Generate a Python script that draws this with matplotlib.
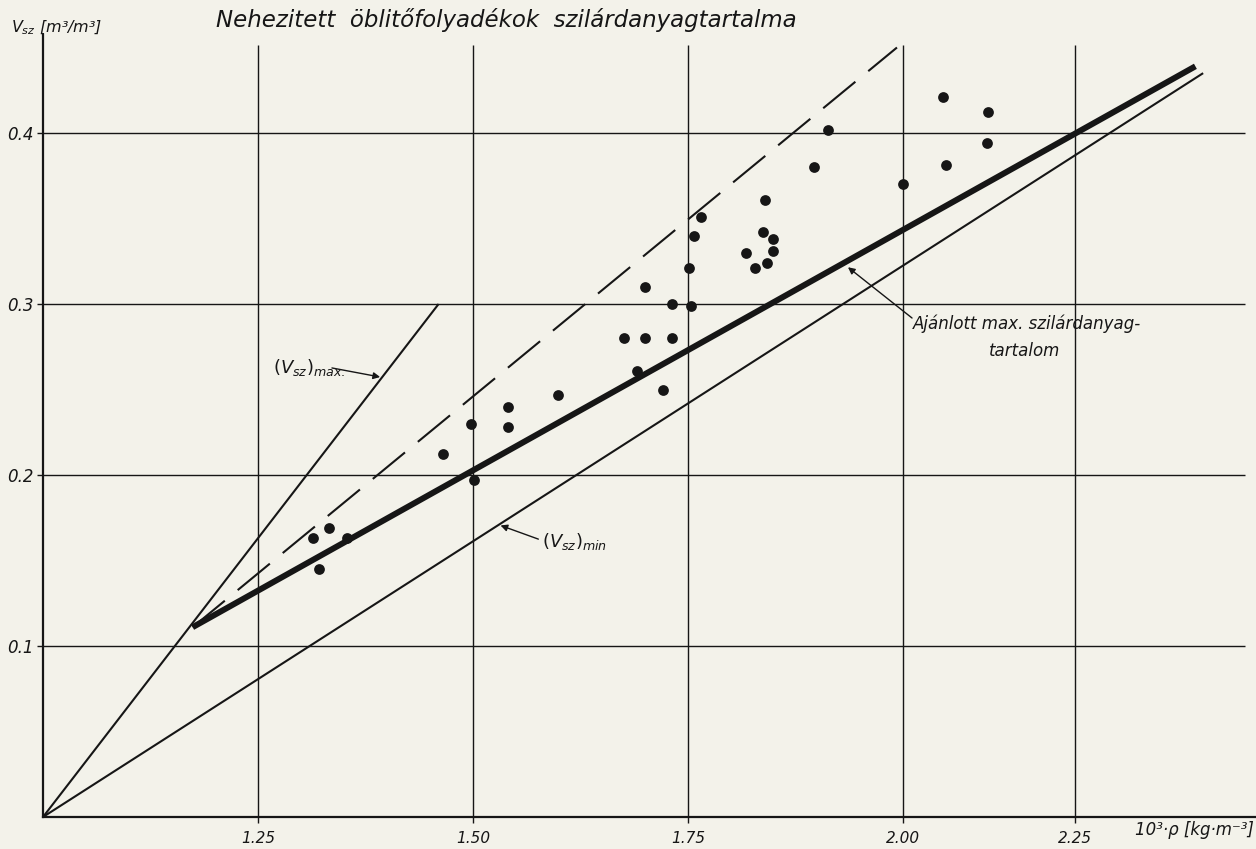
import matplotlib
matplotlib.use("Agg")
import matplotlib.pyplot as plt

# ---- data -------------------------------------------------------------
# measured points: density (10^3 kg/m^3) and solids fraction (m3/m3)
rho_pts = [1.314, 1.332, 1.353, 1.321, 1.465, 1.498, 1.501, 1.541, 1.541,
           1.599, 1.676, 1.700, 1.700, 1.691, 1.721, 1.731, 1.731, 1.753,
           1.751, 1.757, 1.765, 1.817, 1.828, 1.837, 1.840, 1.842, 1.849,
           1.849, 1.896, 1.913, 2.000, 2.050, 2.047, 2.099, 2.098]
vsz_pts = [0.163, 0.169, 0.163, 0.145, 0.212, 0.230, 0.197, 0.240, 0.228,
           0.247, 0.280, 0.280, 0.310, 0.261, 0.250, 0.280, 0.300, 0.299,
           0.321, 0.340, 0.351, 0.330, 0.321, 0.342, 0.361, 0.324, 0.338,
           0.331, 0.380, 0.402, 0.370, 0.381, 0.421, 0.412, 0.394]

# (Vsz)max line
vmax_rho = [1.00, 1.46]
vmax_v = [0.00, 0.30]
# (Vsz)min line
vmin_rho = [1.00, 2.349]
vmin_v = [0.00, 0.435]
# recommended max solids content (thick)
rec_rho = [1.174, 2.340]
rec_v = [0.111, 0.439]
# dashed upper envelope
dash_rho = [1.174, 1.993]
dash_v = [0.111, 0.450]

x_tick_pos = [1.25, 1.50, 1.75, 2.00, 2.20]
x_tick_lab = ["1.25", "1.50", "1.75", "2.00", "2.25"]
y_tick_pos = [0.1, 0.2, 0.3, 0.4]
y_tick_lab = ["0.1", "0.2", "0.3", "0.4"]

title = "Nehezitett  öblitőfolyadékok  szilárdanyagtartalma"

# ---- style ------------------------------------------------------------
paper = "#f3f2ea"
ink = "#161616"

fig = plt.figure(figsize=(12.56, 8.49), dpi=100, facecolor=paper)
W, H = 1256, 849
ax = fig.add_axes([43 / W, 32 / H, 1 - 43 / W, (817 - 35) / H])
ax.set_facecolor(paper)
ax.set_xlim(1.0, 1.0 + 1213 / 860)
ax.set_ylim(0, (817 - 35) / 1710)

for s in ("top", "right"):
    ax.spines[s].set_visible(False)
for s in ("left", "bottom"):
    ax.spines[s].set_linewidth(1.6)
    ax.spines[s].set_color(ink)

# grid
ax.vlines(x_tick_pos, 0, 0.4515, color=ink, lw=1.0, zorder=1)
ax.hlines(y_tick_pos, 1.0, 2.398, color=ink, lw=1.0, zorder=1)

ax.set_xticks(x_tick_pos)
ax.set_xticklabels(x_tick_lab, fontsize=11, style="italic")
ax.set_yticks(y_tick_pos)
ax.set_yticklabels(y_tick_lab, fontsize=12, style="italic")
ax.tick_params(axis="both", length=4, width=1.0, color=ink, labelcolor=ink)
ax.tick_params(axis="x", pad=6)
ax.tick_params(axis="y", pad=3)

# lines
ax.plot(vmax_rho, vmax_v, color=ink, lw=1.5, zorder=3, solid_capstyle="butt")
ax.plot(vmin_rho, vmin_v, color=ink, lw=1.5, zorder=3, solid_capstyle="butt")
ax.plot(rec_rho, rec_v, color=ink, lw=4.3, zorder=3, solid_capstyle="butt")
ax.plot(dash_rho, dash_v, color=ink, lw=1.5, zorder=3,
        linestyle=(0, (20, 8)), clip_on=False)

# points
ax.scatter(rho_pts, vsz_pts, s=60, color=ink, zorder=4, linewidths=0)

# annotations
arrow = dict(arrowstyle="-|>", color=ink, lw=1.0, mutation_scale=10,
             shrinkA=0, shrinkB=0)
ax.annotate("", xy=(1.392, 0.2573), xytext=(1.336, 0.2626), arrowprops=arrow)
ax.text(1.267, 0.263, r"$(V_{sz})_{max.}$", fontsize=13, color=ink,
        ha="left", va="center")
ax.annotate("", xy=(1.532, 0.1705), xytext=(1.576, 0.1625), arrowprops=arrow)
ax.text(1.580, 0.1614, r"$(V_{sz})_{min}$", fontsize=13, color=ink,
        ha="left", va="center")
ax.annotate("", xy=(1.936, 0.3215), xytext=(2.0105, 0.2918), arrowprops=arrow)
ax.text(2.012, 0.2885, "Ajánlott max. szilárdanyag-", fontsize=12,
        style="italic", color=ink, ha="left", va="center")
ax.text(2.142, 0.2725, "tartalom", fontsize=12, style="italic", color=ink,
        ha="center", va="center")

# titles / axis labels
fig.text(506 / W, 1 - 20 / H, title, fontsize=16.5, style="italic", color=ink,
         ha="center", va="center")
fig.text(11 / W, 1 - 28 / H, r"$V_{sz}$ [m³/m³]", fontsize=11.5, style="italic",
         color=ink, ha="left", va="center")
fig.text(1254 / W, 1 - 830 / H, "10³·ρ [kg·m⁻³]", fontsize=12, style="italic",
         color=ink, ha="right", va="center")

fig.savefig("out.png", dpi=100, facecolor=paper)
